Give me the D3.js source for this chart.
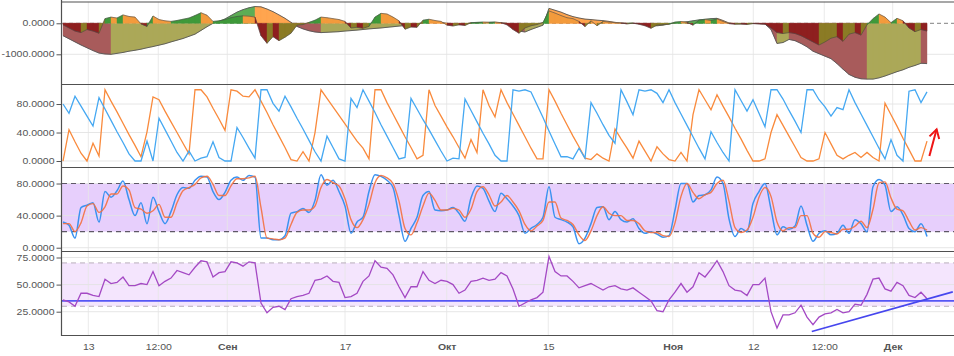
<!DOCTYPE html>
<html><head><meta charset="utf-8">
<script src="https://cdn.jsdelivr.net/npm/d3@7"></script>
<style>
html,body{margin:0;padding:0;background:#fff;}
svg{display:block;font-family:Arial,"Liberation Sans",sans-serif;}
</style></head><body>
<svg id="c" width="954" height="356"></svg>
<script>
// ---------- DATA ----------
const tickPos = [4.22, 15.88, 27.38, 47, 63.95, 80.88, 101.62, 115.05, 126.88, 138.28];
const tickLabels = ["13", "12:00", "Сен", "17", "Окт", "15", "Ноя", "12", "12:00", "Дек"];
const monthLabels = ["Сен", "Окт", "Ноя", "Дек"];

const oscSlow = [
 -400,-500,-600,-700,-790,-880,-960,-990,-1000,-970,
 -940,-900,-870,-835,-790,-750,-705,-660,-600,-545,
 -490,-420,-350,-230,-110,0,60,140,250,360,
 440,500,540,530,460,375,270,160,30,-100,
 -180,-240,-280,-300,-290,-280,-270,-250,-235,-220,
 -200,-180,-165,-150,-130,-110,-90,-70,-50,-30,
 20,60,50,30,0,-30,-40,-20,10,20,
 25,30,30,20,0,-100,-250,-280,-200,-130,
 -60,480,420,360,280,215,170,135,120,100,
 86,60,30,10,0,0,-10,-30,-60,-80,
 -60,-20,10,30,50,80,110,130,150,160,
 90,10,-10,-20,-10,-5,-10,-20,-200,-650,
 -620,-520,-560,-650,-760,-900,-980,-1060,-1140,-1300,
 -1480,-1650,-1740,-1790,-1800,-1800,-1760,-1700,-1630,-1560,
 -1500,-1420,-1360,-1290,-1300];
const oscFast = [
 -50,-150,-250,-300,-200,-250,-320,150,200,170,
 270,220,200,-20,-100,236,120,80,60,90,
 130,170,250,340,260,60,80,120,180,220,
 240,230,200,-400,-645,-430,-560,-450,-320,-60,
 -40,30,100,200,180,150,120,60,-150,-130,
 -160,-100,200,320,300,200,80,-190,-120,-130,
 100,130,90,60,-60,-86,-50,-70,20,30,
 40,30,40,20,-50,-200,-320,-150,-80,-40,
 30,400,330,250,180,150,60,-107,80,-80,
 60,40,20,10,-20,5,-30,-80,-160,-60,
 -40,-30,40,55,30,-60,100,120,90,140,
 60,-10,-30,-20,-40,-10,-20,-30,-150,-300,
 -330,-300,-330,-400,-500,-600,-700,-600,-480,-430,
 -580,-350,-300,-380,-50,150,300,200,20,160,
 80,-150,-270,-200,-250];

const aroonUp = [
 80,67,91,77,63,49,89,73,57,41,
 26,10,0,0,28,0,60,44,28,12,
 0,14,0,4,6,27,5,0,0,47,
 33,18,4,100,100,81,70,91,76,60,
 45,29,13,0,35,19,3,0,88,75,
 100,84,68,51,35,19,3,5,88,73,
 58,44,29,14,0,4,3,87,71,55,
 39,24,8,0,0,100,98,100,97,79,
 61,42,24,6,6,3,18,4,82,67,
 51,36,25,100,83,65,100,98,100,95,
 82,100,82,66,50,34,18,3,41,26,
 12,0,100,85,70,86,67,48,100,100,
 87,71,56,40,100,100,86,76,63,75,
 72,100,82,66,50,34,18,3,30,8,
 0,98,100,82,97];
const aroonDown = [
 0,44,27,11,0,25,7,100,84,69,
 53,37,22,6,41,90,86,70,55,40,
 25,10,100,100,90,74,59,43,100,98,
 91,90,100,84,68,51,35,19,2,0,
 13,0,40,100,88,76,64,52,40,28,
 18,3,100,100,82,66,50,34,19,3,
 8,100,78,63,48,34,19,4,30,12,
 100,78,62,100,82,66,50,34,18,3,
 3,100,84,67,51,35,20,4,2,10,
 4,0,45,31,18,4,28,14,0,20,
 10,2,0,12,0,65,100,86,72,93,
 77,62,46,31,15,0,0,3,40,65,
 50,35,20,5,0,0,3,40,24,8,
 3,8,12,5,12,5,0,81,65,49,
 32,16,0,0,28];

const stochK = [
 32,28,12,50,53,56,32,70,63,71,
 83,60,40,56,30,63,45,30,45,66,
 75,74,84,89,88,70,60,69,84,88,
 84,90,88,12,12,10,10,15,43,45,
 49,44,59,91,78,84,70,52,18,32,
 38,70,91,89,84,75,40,8,24,38,
 65,70,47,46,47,50,43,33,62,77,
 74,58,45,68,61,52,40,18,24,29,
 38,76,38,35,32,26,5,12,30,50,
 51,35,45,35,32,36,24,18,20,17,
 13,15,47,80,80,57,65,66,72,88,
 80,36,14,24,20,55,70,80,48,16,
 26,23,27,52,28,8,18,21,16,18,
 28,18,35,30,20,76,85,78,45,51,
 41,24,20,30,14];
const stochD = [
 30,30,20,31,52,55,44,51,67,67,
 77,72,50,48,43,46,54,38,38,56,
 71,75,79,87,89,79,65,65,77,86,
 86,87,89,50,12,11,10,12,29,44,
 47,47,52,75,85,81,77,61,35,25,
 35,54,81,90,87,80,58,24,16,31,
 52,68,59,47,47,49,47,38,48,70,
 76,66,52,57,65,57,46,29,21,27,
 34,57,57,37,34,29,16,9,21,40,
 51,43,40,40,34,34,30,21,19,19,
 15,14,31,64,80,69,61,66,69,80,
 84,58,25,19,22,38,63,75,64,32,
 21,25,25,40,40,18,13,20,19,17,
 23,23,27,33,25,48,81,82,62,48,
 46,33,22,25,22];
const stochBand = [20, 80];

const rsi = [
 36,34,30,42,42,40,39,55,51,52,
 57,49,49,51,50,62,49,53,56,63,
 61,59,66,72,71,57,61,62,71,70,
 67,71,70,33,24,29,30,27,37,39,
 40,42,54,55,58,53,52,38,39,42,
 53,58,72,66,65,59,48,38,48,48,
 62,54,51,54,53,50,42,45,53,54,
 56,54,55,61,58,46,30,33,36,38,
 43,76,62,58,58,53,47,49,51,48,
 45,48,49,46,45,47,43,39,35,26,
 25,36,43,51,43,48,61,57,64,72,
 62,49,45,44,40,50,50,56,25,10,
 22,22,24,31,20,13,20,23,24,27,
 24,25,32,31,41,55,56,46,44,52,
 49,40,38,43,37];
const rsiBand = [30, 70];
const rsiLevel = 35;
const trendX = [124.8, 148.3];
const trendY = [6.7, 43.3];
const arrowX = [144.4, 145.6];
const arrowY = [7, 44.5];

// ---------- CHART ----------
const svg = d3.select("#c");
const plotL = 62, plotR = 954;
const n = aroonUp.length;
const x = d3.scaleLinear().domain([0, n - 1]).range([63, 927]);

const panels = [
  {top: 1.5, bottom: 84, domain: [-1958, 703], ticks: [0, -1000]},
  {top: 84, bottom: 167, domain: [-8.4, 108.1], ticks: [0, 40, 80]},
  {top: 167, bottom: 251, domain: [-4.1, 100.6], ticks: [0, 40, 80]},
  {top: 251, bottom: 335, domain: [3.5, 81], ticks: [25, 50, 75]}
];
panels.forEach(p => p.y = d3.scaleLinear().domain(p.domain).range([p.bottom, p.top]));

const defs = svg.append("defs");
panels.forEach((p, k) => {
  defs.append("clipPath").attr("id", "clip" + k).append("rect")
    .attr("x", plotL).attr("y", p.top).attr("width", plotR - plotL).attr("height", p.bottom - p.top);
  defs.append("clipPath").attr("id", "aclip" + k).append("rect")
    .attr("x", 0).attr("y", p.top).attr("width", plotL).attr("height", p.bottom - p.top);
});

svg.append("rect").attr("width", 954).attr("height", 356).attr("fill", "#fff");

const layers = panels.map((p, k) => svg.append("g").attr("clip-path", `url(#clip${k})`));

// bands
{
  const p = panels[2];
  layers[2].append("rect").attr("x", plotL).attr("width", plotR - plotL)
    .attr("y", p.y(stochBand[1])).attr("height", p.y(stochBand[0]) - p.y(stochBand[1]))
    .attr("fill", "#e7cffc");
  const q = panels[3];
  layers[3].append("rect").attr("x", plotL).attr("width", plotR - plotL)
    .attr("y", q.y(rsiBand[1])).attr("height", q.y(rsiBand[0]) - q.y(rsiBand[1]))
    .attr("fill", "#f4e5fd");
}

// grids
panels.forEach((p, k) => {
  const g = layers[k];
  g.selectAll(null).data(tickPos).join("line")
    .attr("x1", d => x(d)).attr("x2", d => x(d)).attr("y1", p.top).attr("y2", p.bottom)
    .attr("stroke", "#e6e6e6").attr("stroke-opacity", 0.85).attr("stroke-width", 1);
  g.selectAll(null).data(p.ticks.filter(t => !(k === 0 && t === 0))).join("line")
    .attr("x1", plotL).attr("x2", plotR).attr("y1", d => p.y(d)).attr("y2", d => p.y(d))
    .attr("stroke", "#e3e3e3").attr("stroke-opacity", 0.9).attr("stroke-width", 1);
});

// dashed levels
layers[0].append("line").attr("x1", plotL).attr("x2", plotR)
  .attr("y1", panels[0].y(0)).attr("y2", panels[0].y(0))
  .attr("stroke", "#9a9a9a").attr("stroke-width", 1.2).attr("stroke-dasharray", "4,3");
stochBand.forEach(v => layers[2].append("line").attr("x1", plotL).attr("x2", plotR)
  .attr("y1", panels[2].y(v)).attr("y2", panels[2].y(v))
  .attr("stroke", "#5e5866").attr("stroke-width", 1.1).attr("stroke-dasharray", "5,4"));
rsiBand.forEach(v => layers[3].append("line").attr("x1", plotL).attr("x2", plotR)
  .attr("y1", panels[3].y(v)).attr("y2", panels[3].y(v))
  .attr("stroke", "#b8aebb").attr("stroke-width", 1).attr("stroke-dasharray", "5,4"));

// ---- panel 1: oscillator areas ----
function drawOsc(series, pal, outline, ow) {
  const y = panels[0].y;
  const segArea = d3.area().x(d => x(d[0])).y0(y(0)).y1(d => y(d[1]));
  const col = i => {
    const a = series[i], b = series[i + 1], m = (a + b) / 2, up = b >= a;
    return m >= 0 ? (up ? pal.pu : pal.pd) : (up ? pal.nu : pal.nd);
  };
  layers[0].append("g").selectAll("path").data(d3.range(n - 1)).join("path")
    .attr("d", i => segArea([[i, series[i]], [i + 1, series[i + 1]]]))
    .attr("fill", col).attr("stroke", col).attr("stroke-width", 0.4);
  layers[0].append("path").datum(series)
    .attr("d", d3.line().x((d, i) => x(i)).y(d => y(d)))
    .attr("fill", "none").attr("stroke", outline).attr("stroke-width", ow);
}
drawOsc(oscSlow, {pu: "#5cad55", pd: "#ffa54f", nu: "#aba858", nd: "#a85b5b"}, "#555", 0.9);
drawOsc(oscFast, {pu: "#3f993a", pd: "#f39b3c", nu: "#8b7b25", nd: "#8e1f1f"}, "#4a4a4a", 0.6);

// ---- panel 2: aroon ----
const line2 = d3.line().x((d, i) => x(i)).y(d => panels[1].y(d));
layers[1].append("path").datum(aroonDown).attr("d", line2).attr("fill", "none")
  .attr("stroke", "#f98a3c").attr("stroke-width", 1.3);
layers[1].append("path").datum(aroonUp).attr("d", line2).attr("fill", "none")
  .attr("stroke", "#45a8f2").attr("stroke-width", 1.3);
{
  const x0 = x(arrowX[0]), y0 = panels[1].y(arrowY[0]);
  const x1 = x(arrowX[1]), y1 = panels[1].y(arrowY[1]);
  const ang = Math.atan2(y1 - y0, x1 - x0), L = 10, A = Math.PI / 6;
  layers[1].append("line").attr("x1", x0).attr("y1", y0).attr("x2", x1).attr("y2", y1)
    .attr("stroke", "#ee1515").attr("stroke-width", 2);
  layers[1].append("polyline")
    .attr("points", [[x1 - L * Math.cos(ang - A), y1 - L * Math.sin(ang - A)], [x1, y1],
      [x1 - L * Math.cos(ang + A), y1 - L * Math.sin(ang + A)]].map(p => p.join(",")).join(" "))
    .attr("fill", "none").attr("stroke", "#ee1515").attr("stroke-width", 2);
}

// ---- panel 3: stochastic ----
const line3 = d3.line().x((d, i) => x(i)).y(d => panels[2].y(d)).curve(d3.curveMonotoneX);
layers[2].append("path").datum(stochK).attr("d", line3).attr("fill", "none")
  .attr("stroke", "#3b92f0").attr("stroke-width", 1.5);
layers[2].append("path").datum(stochD).attr("d", line3).attr("fill", "none")
  .attr("stroke", "#f3703f").attr("stroke-width", 1.4).attr("stroke-opacity", 0.9);

// ---- panel 4: RSI ----
const y4 = panels[3].y;
layers[3].append("line").attr("x1", plotL).attr("x2", plotR)
  .attr("y1", y4(rsiLevel)).attr("y2", y4(rsiLevel))
  .attr("stroke", "#5656f5").attr("stroke-width", 1.6);
layers[3].append("path").datum(rsi)
  .attr("d", d3.line().x((d, i) => x(i)).y(d => y4(d)))
  .attr("fill", "none").attr("stroke", "#a449c4").attr("stroke-width", 1.3);
layers[3].append("line").attr("x1", x(trendX[0])).attr("y1", y4(trendY[0]))
  .attr("x2", x(trendX[1])).attr("y2", y4(trendY[1]))
  .attr("stroke", "#4646ee").attr("stroke-width", 1.6);

// ---- axes & borders ----
panels.forEach((p, k) => {
  const g = svg.append("g").attr("transform", `translate(${plotL - 0.5},0)`)
    .attr("clip-path", null);
  const wrap = svg.append("g").attr("clip-path", `url(#aclip${k})`);
  const ag = wrap.append("g").attr("transform", `translate(${plotL - 0.5},0)`);
  ag.call(d3.axisLeft(p.y).tickValues(p.ticks).tickFormat(d => d.toFixed(4)).tickSize(5).tickPadding(2));
  ag.select(".domain").remove();
  ag.attr("font-family", null).attr("font-size", null);
  ag.selectAll(".tick line").attr("stroke", "#555");
  ag.selectAll(".tick text").attr("fill", "#555").attr("font-size", 10.5)
    .attr("font-family", "Arial, 'Liberation Sans', sans-serif").attr("transform", "scale(1,0.8)");
  g.remove();
});

const bx = svg.append("g").attr("transform", "translate(0,335)");
bx.call(d3.axisBottom(x).tickValues(tickPos).tickFormat((d, i) => tickLabels[i]).tickSize(0).tickPadding(11));
bx.select(".domain").remove();
bx.attr("font-family", null).attr("font-size", null);
bx.selectAll(".tick text").attr("fill", "#555").attr("font-size", 10.5)
  .attr("font-family", "Arial, 'Liberation Sans', sans-serif")
  .attr("font-weight", d => null)
  .each(function (d, i) { if (monthLabels.includes(tickLabels[i])) d3.select(this).attr("font-weight", "bold"); })
  .attr("transform", "scale(1,0.8)");

const borderCol = "#505050";
[1.5, 84, 167, 251, 335].forEach(yv => svg.append("line")
  .attr("x1", plotL - 0.5).attr("x2", plotR).attr("y1", yv + 0.5).attr("y2", yv + 0.5)
  .attr("stroke", borderCol).attr("stroke-width", 1.2));
svg.append("line").attr("x1", plotL - 0.5).attr("x2", plotL - 0.5).attr("y1", 0).attr("y2", 336)
  .attr("stroke", borderCol).attr("stroke-width", 1.2);
</script>
</body></html>
